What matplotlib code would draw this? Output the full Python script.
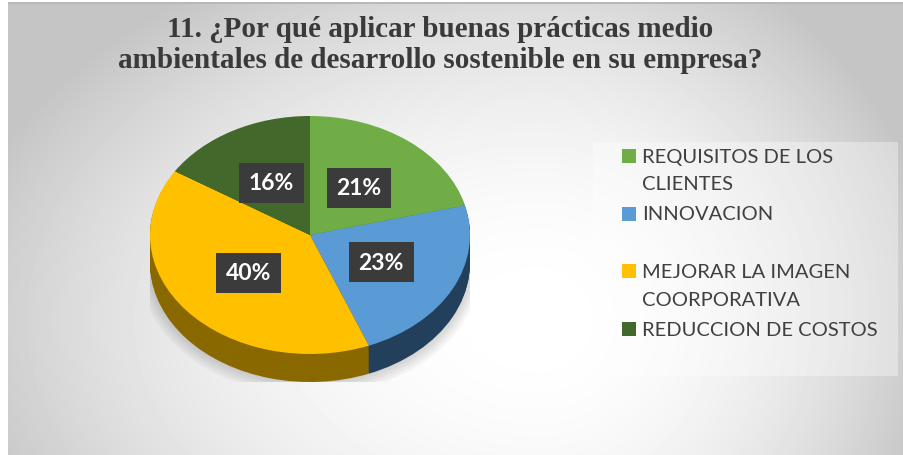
import numpy as np
import matplotlib
matplotlib.use('Agg')
import matplotlib.pyplot as plt
from matplotlib.patches import Rectangle, Ellipse

# data
categories = ['REQUISITOS DE LOS\nCLIENTES', 'INNOVACION',
              'MEJORAR LA IMAGEN\nCOORPORATIVA', 'REDUCCION DE COSTOS']
values = [21, 23, 40, 16]
top_colors = ['#70ad47', '#5b9bd5', '#ffc000', '#43682b']
side_colors = ['#4b7a2f', '#223f5c', '#8a6800', '#2c461c']
title = '11. ¿Por qué aplicar buenas prácticas medio\nambientales de desarrollo sostenible en su empresa?'

W, H = 904, 456
fig = plt.figure(figsize=(W / 100, H / 100), dpi=100)
fig.patch.set_facecolor('white')

# background with soft radial gradient
bg = fig.add_axes([8 / W, 0, (W - 8) / W, (H - 3) / H])
yy, xx = np.mgrid[0:H - 3, 0:W - 8].astype(float)
xx += 8
yy += 3
cx, cy = 540, 320
rxs = np.where(xx < cx, 600.0, 400.0)
t = np.sqrt(((xx - cx) / rxs) ** 2 + ((yy - cy) / 400.0) ** 2)
t = np.clip(t, 0, 1)
shade = 1.0 - 0.23 * t ** 2
bg.imshow(shade, cmap='gray', vmin=0, vmax=1, aspect='auto', interpolation='bilinear')
bg.axhline(0, color='#b8b8b8', lw=1.5)
bg.set_axis_off()

# legend area
bg.add_patch(Rectangle((593 - 8, 142 - 3), 305, 234, facecolor='white',
                       alpha=0.35, edgecolor='none'))

# pie axes: ellipse rx=160 ry=119, depth 28 px
rx, ry, depth = 160, 119, 28
d = depth / ry
left, top = 150, 117
ax = fig.add_axes([left / W, (H - (top + 2 * ry + depth)) / H,
                   2 * rx / W, (2 * ry + depth) / H])

# soft shadow below the pie
for k in range(5):
    ax.add_patch(Ellipse((0.0, -d - 0.01), 2.0 + 0.035 * k, 2.0 + 0.05 * k,
                         facecolor='black', alpha=0.035, edgecolor='none', zorder=0))

n_layers = 30
for i in range(n_layers, 0, -1):
    off = d * i / n_layers
    ax.pie(values, colors=side_colors, startangle=90, counterclock=False,
           center=(0, -off), radius=1, wedgeprops=dict(linewidth=0),
           normalize=True)

wedges, texts, autotexts = ax.pie(
    values, colors=top_colors, startangle=90, counterclock=False,
    center=(0, 0), radius=1, wedgeprops=dict(linewidth=0),
    autopct='%1.0f%%', pctdistance=0.5, normalize=True)
for at in autotexts:
    at.set_color('white')
    at.set_fontsize(16.5)
    at.set_fontweight('bold')
    at.set_family('Lato')
    at.set_bbox(dict(boxstyle='square,pad=0.42', facecolor='#3b3b3b',
                     edgecolor='none'))
ax.set_aspect('auto')
ax.set_xlim(-1, 1)
ax.set_ylim(-1 - d, 1)
ax.set_axis_off()

# title
fig.text(440 / W, 1 - 45 / H, title, ha='center', va='center',
         fontsize=21, fontweight='bold', family='Liberation Serif',
         color='#3a3a3a', linespacing=1.15)

# legend
y0 = 157
for i, (lab, col) in enumerate(zip(categories, top_colors)):
    ycur = y0 + i * 57.7
    fig.patches.append(Rectangle((622 / W, 1 - (ycur + 7) / H), 14 / W, 14 / H,
                                 transform=fig.transFigure, figure=fig,
                                 facecolor=col, edgecolor='none'))
    for j, line in enumerate(lab.split('\n')):
        fig.text(642 / W, 1 - (ycur + j * 28) / H, line, ha='left', va='center',
                 fontsize=14.5, family='Lato', color='#404040')

fig.savefig('out.png', dpi=100)
